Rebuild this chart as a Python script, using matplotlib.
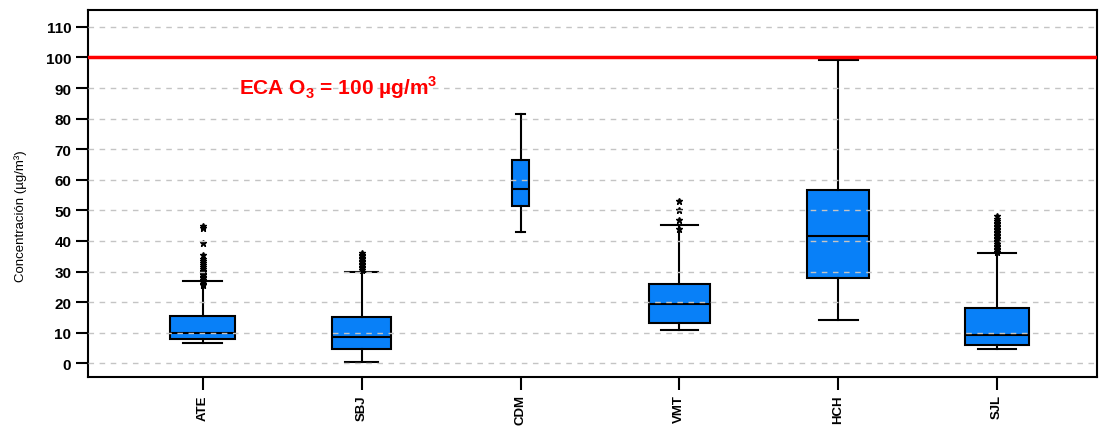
import matplotlib
matplotlib.use("Agg")
import matplotlib.pyplot as plt

plt.rcParams["font.family"] = ["Liberation Sans", "DejaVu Sans"]
plt.rcParams["mathtext.fontset"] = "custom"
plt.rcParams["mathtext.rm"] = "Liberation Sans:bold"
plt.rcParams["mathtext.bf"] = "Liberation Sans:bold"

# stations and box statistics (ug/m3)
stations = ["ATE", "SBJ", "CDM", "VMT", "HCH", "SJL"]
whislo = [6.5, 0.3, 43.0, 11.0, 14.3, 4.6]
q1 = [7.8, 4.6, 51.5, 13.0, 28.0, 5.9]
med = [9.8, 8.5, 57.0, 19.5, 41.7, 9.1]
q3 = [15.6, 15.0, 66.4, 26.0, 56.7, 18.0]
whishi = [27.0, 30.0, 81.4, 45.3, 99.3, 36.0]

fliers_ate = [25.5, 26, 26.5, 27.2, 27.8, 28.3, 28.8, 29.3, 29.8, 30.3, 30.8,
              31.4, 32, 32.7, 33.4, 34.2, 35.3, 39.2, 44.2, 45.0]
fliers_sbj = [30.5, 31, 31.5, 32, 32.5, 33, 33.5, 34, 34.5, 35, 35.5, 36]
fliers_cdm = []
fliers_vmt = [44.0, 47.0, 50.0, 53.0]
fliers_hch = []
fliers_sjl = [36.5, 37, 37.5, 38, 38.5, 39, 39.5, 40, 40.5, 41, 41.5, 42, 42.5,
              43, 43.5, 44, 44.5, 45, 45.5, 46, 46.5, 47.2, 48.3]
fliers = [fliers_ate, fliers_sbj, fliers_cdm, fliers_vmt, fliers_hch, fliers_sjl]

box_widths = [0.41, 0.37, 0.107, 0.38, 0.39, 0.40]
cap_widths = [0.245, 0.21, 0.057, 0.23, 0.245, 0.245]

eca_limit = 100
yticks = [0, 10, 20, 30, 40, 50, 60, 70, 80, 90, 100, 110]

stats = []
for i, name in enumerate(stations):
    stats.append({
        "label": name, "whislo": whislo[i], "q1": q1[i], "med": med[i],
        "q3": q3[i], "whishi": whishi[i], "fliers": fliers[i],
    })

fig = plt.figure(figsize=(11.03, 4.27), dpi=100)
ax = fig.add_axes([0.0798, 0.1148, 0.9148, 0.8592])

positions = list(range(1, len(stations) + 1))
ax.bxp(stats, positions=positions, widths=box_widths, capwidths=cap_widths,
       patch_artist=True, showfliers=True,
       boxprops=dict(facecolor="#0880F8", edgecolor="black", linewidth=1.5),
       medianprops=dict(color="black", linewidth=1.5),
       whiskerprops=dict(color="black", linewidth=1.5),
       capprops=dict(color="black", linewidth=1.5),
       flierprops=dict(marker="*", markersize=4.5, markerfacecolor="black",
                       markeredgecolor="black", linestyle="none"),
       zorder=2)

for v in yticks:
    ax.axhline(v, color="#c4c4c4", linestyle=(0, (4, 4)), linewidth=1.0, zorder=3)

ax.axhline(eca_limit, color="#ff0000", linewidth=2.5, zorder=4)
ax.text(1.23, 90.5, r"ECA O$_{\mathbf{3}}$ = 100 µg/m$^{\mathbf{3}}$",
        color="#ff0000", fontsize=15, fontweight="bold", va="center", ha="left")

ax.set_xlim(0.277, 6.63)
ax.set_ylim(-4.5, 115.5)
ax.set_yticks(yticks)
ax.set_yticklabels([str(v) for v in yticks], fontweight="bold", fontsize=11)
ax.set_xticks(positions)
ax.set_xticklabels(stations, rotation=90, fontweight="bold", fontsize=9.5)
ax.tick_params(axis="y", direction="out", length=9, width=1.5, pad=3)
ax.tick_params(axis="x", direction="out", length=9.5, width=1.5, pad=3)
for s in ax.spines.values():
    s.set_linewidth(1.5)

ax.set_ylabel("Concentración (µg/m³)", fontsize=9.5)
ax.yaxis.set_label_coords(-0.06, 0.44)

fig.savefig("out.png", dpi=100)
